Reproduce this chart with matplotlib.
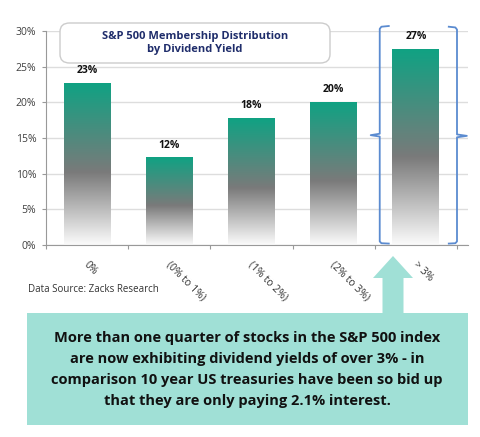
import matplotlib
matplotlib.use('Agg')
import matplotlib.pyplot as plt
import numpy as np
from matplotlib.colors import LinearSegmentedColormap
from matplotlib.patches import FancyBboxPatch, FancyArrow, Rectangle

# data
categories = ['0%', '(0% to 1%)', '(1% to 2%)', '(2% to 3%)', '> 3%']
shares = [22.7, 12.2, 17.8, 20.0, 27.4]
labels = ['23%', '12%', '18%', '20%', '27%']
yticks = [0, 5, 10, 15, 20, 25, 30]

plt.rcParams['font.family'] = ['Open Sans', 'DejaVu Sans']

fig = plt.figure(figsize=(4.8, 4.37), dpi=100)
ax = fig.add_axes([46 / 480, 1 - 245 / 437, (468 - 46) / 480, (245 - 31) / 437])

# gradient teal -> gray -> white for each bar
cmap = LinearSegmentedColormap.from_list(
    'bar', [(0, '#fbfbfb'), (0.45, '#7a7a7a'), (1, '#10a283')])
grad = np.linspace(0, 1, 256).reshape(-1, 1)
width = 0.57
for i, v in enumerate(shares):
    ax.imshow(grad, cmap=cmap, origin='lower', aspect='auto',
              extent=[i - width / 2, i + width / 2, 0, v], zorder=2)
    ax.text(i, v + 1.0, labels[i], ha='center', va='bottom',
            fontsize=7.5, fontweight='bold', color='#111111')

ax.set_xlim(-0.5, -0.5 + (468 - 46) / 82.2)
ax.set_ylim(0, 30)
ax.set_yticks(yticks)
ax.set_yticklabels([f'{t}%' for t in yticks], fontsize=7.5, color='#404040')
ax.set_xticks(np.arange(-0.5, 5, 1))
ax.set_xticklabels([])
ax.tick_params(axis='y', length=3, color='#999999', pad=4)
ax.tick_params(axis='x', length=3, color='#999999', direction='out')
for i, c in enumerate(categories):
    ax.text(i + 0.03, -2.0, c, rotation=-45, rotation_mode='anchor', ha='left',
            va='top', fontsize=7.5, color='#333333')
ax.grid(axis='y', color='#dddddd', linewidth=1, zorder=0)
ax.set_axisbelow(True)
for s in ['top', 'right']:
    ax.spines[s].set_visible(False)
for s in ['left', 'bottom']:
    ax.spines[s].set_color('#999999')

# brackets around the last category
bc = '#5b8bd0'
ax.plot([3.67, 3.58, 3.56, 3.56, 3.45, 3.56, 3.56, 3.58, 3.67],
        [30.7, 30.6, 30.3, 15.6, 15.4, 15.2, 0.5, 0.25, 0.2],
        color=bc, lw=1.3, clip_on=False, zorder=3)
ax.plot([4.40, 4.48, 4.50, 4.50, 4.62, 4.50, 4.50, 4.48, 4.40],
        [30.6, 30.5, 30.2, 15.5, 15.3, 15.1, 0.5, 0.25, 0.2],
        color=bc, lw=1.3, clip_on=False, zorder=3)

# title box
fig.patches.append(FancyBboxPatch((60 / 480, 1 - 63 / 437), 270 / 480, 40 / 437,
                                  boxstyle='round,pad=0,rounding_size=0.02',
                                  transform=fig.transFigure, facecolor='white',
                                  edgecolor='#cccccc', lw=1, zorder=5))
fig.text(195 / 480, 1 - 43 / 437, 'S&P 500 Membership Distribution\nby Dividend Yield',
         ha='center', va='center', fontsize=8, fontweight='bold', color='#1f2d6b',
         linespacing=1.3, zorder=6)

fig.text(28 / 480, 1 - 289 / 437, 'Data Source: Zacks Research', fontsize=7,
         color='#333333', va='center')

# callout arrow and box
teal = '#a0e0d6'
fig.patches.append(FancyArrow(393 / 480, 1 - 318 / 437, 0, 62 / 437,
                              width=21 / 480, head_width=40 / 480, head_length=22 / 437,
                              length_includes_head=True, transform=fig.transFigure,
                              color=teal, lw=0, zorder=4))
fig.patches.append(Rectangle((27 / 480, 1 - 425 / 437), 441 / 480, 112 / 437,
                             transform=fig.transFigure, facecolor=teal, lw=0, zorder=4))
msg = ('More than one quarter of stocks in the S&P 500 index\n'
       'are now exhibiting dividend yields of over 3% - in\n'
       'comparison 10 year US treasuries have been so bid up\n'
       'that they are only paying 2.1% interest.')
fig.text(247 / 480, 1 - 369.5 / 437, msg, ha='center', va='center', fontsize=10.5,
         fontweight='bold', color='#111111', linespacing=1.65, zorder=6)

fig.savefig('out.png', dpi=100)
